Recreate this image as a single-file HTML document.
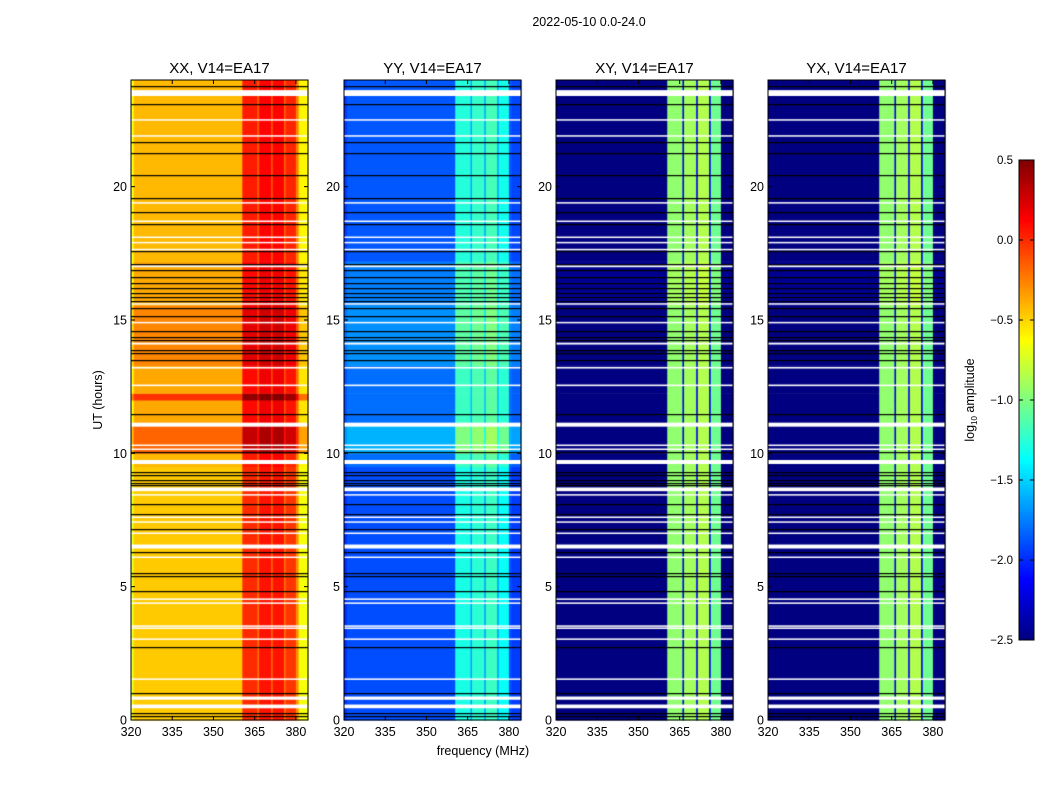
<!DOCTYPE html>
<html><head><meta charset="utf-8"><style>
body{margin:0;background:#fff;width:1050px;height:800px;overflow:hidden;font-family:"Liberation Sans",sans-serif;}
#root{position:relative;width:1050px;height:800px;}
canvas{position:absolute;}
svg{position:absolute;left:0;top:0;}
</style></head><body>
<div id="root">
<canvas id="cv" width="1050" height="800"></canvas>
<svg id="sv" width="1050" height="800"></svg>
</div>
<script>
const panelTitles = ["XX, V14=EA17","YY, V14=EA17","XY, V14=EA17","YX, V14=EA17"];
const panelLeft = [131,344,556,768];
const freqBreaks = [320,321,360.5,366,366.6,371,371.6,375.7,376.3,380,381,384.4];
const profXX = [-0.65,-0.42,0.05,-0.15,0.12,-0.1,0.12,-0.15,0.02,-0.25,-0.6];
const profYY = [-2.0,-1.9,-1.3,-1.65,-1.25,-1.65,-1.2,-1.65,-1.35,-1.9,-1.95];
const profXY = [-2.5,-2.5,-0.95,-2.2,-0.9,-2.2,-0.85,-2.2,-1.05,-2.5,-2.5];
const profYX = [-2.5,-2.5,-0.95,-2.2,-0.9,-2.2,-0.85,-2.2,-1.05,-2.5,-2.5];
const timeBreaks = [0,9.5,10.0,11.1,12.0,12.25,13.3,15.55,17.2,24];
const offXX = [-0.05,0,0.25,0.05,0.4,0.05,0.15,0.05,0];
const offYY = [0,0.1,0.3,0.1,0.1,0.1,0.2,0.15,0.03];
const offXY = [0,0,0,0,0,0,0,0.05,0];
const offYX = [0,0,0,0,0,0,0,0.05,0];
const whiteGaps = [[23.4,23.62],[22.48,22.53],[21.88,21.93],[19.37,19.42],[18.68,18.73],[18.08,18.13],[17.88,17.93],[17.62,17.67],[16.98,17.05],[15.58,15.63],[14.88,14.93],[14.08,14.15],[13.18,13.24],[12.52,12.58],[11.0,11.15],[10.28,10.33],[10.13,10.18],[9.6,9.75],[8.58,8.72],[8.42,8.47],[7.58,7.63],[7.4,7.45],[6.98,7.03],[6.43,6.58],[6.08,6.13],[4.51,4.56],[4.36,4.41],[3.5,3.55],[3.43,3.47],[3.01,3.06],[1.51,1.56],[0.76,0.88],[0.44,0.58]];
const blackLines = [23.77,23.1,21.67,21.26,20.44,19.57,19.05,18.6,17.6,17.1,16.87,16.6,16.4,16.2,16.0,15.85,15.7,15.45,15.15,14.6,14.37,14.25,13.87,13.76,13.5,11.47,10.05,9.3,9.2,9.0,8.9,8.8,8.1,7.72,7.16,6.3,5.5,5.4,4.84,2.74,1.0,0.25,0.15];
const xTicks = [320,335,350,365,380];
const yTicks = [0,5,10,15,20];
const cbTicks = [0.5,0.0,-0.5,-1.0,-1.5,-2.0,-2.5];
const profiles=[profXX,profYY,profXY,profYX], offsets=[offXX,offYY,offXY,offYX];
const PW=177, TOP=80, PH=640, F0=320, F1=384.4, VMIN=-2.5, VMAX=0.5;
const xs=(l,f)=>l+(f-F0)/(F1-F0)*PW;
const ys=h=>TOP+PH-(h/24)*PH;
function jet(v){let t=(v-VMIN)/(VMAX-VMIN);t=Math.max(0,Math.min(1,t));
 const c=x=>Math.round(255*Math.max(0,Math.min(1,1.5-Math.abs(x))));
 return `rgb(${c(4*t-3)},${c(4*t-2)},${c(4*t-1)})`;}
const ctx=document.getElementById('cv').getContext('2d');
const sv=document.getElementById('sv');const NS="http://www.w3.org/2000/svg";
function el(tag,attrs,text){const e=document.createElementNS(NS,tag);for(const k in attrs)e.setAttribute(k,attrs[k]);if(text!==undefined)e.textContent=text;sv.appendChild(e);return e;}
panelLeft.forEach((L,p)=>{
 for(let i=0;i<freqBreaks.length-1;i++){for(let j=0;j<timeBreaks.length-1;j++){
  ctx.fillStyle=jet(profiles[p][i]+offsets[p][j]);
  const x0=xs(L,freqBreaks[i]),x1=xs(L,freqBreaks[i+1]),y0=ys(timeBreaks[j+1]),y1=ys(timeBreaks[j]);
  ctx.fillRect(x0,y0,x1-x0+0.5,y1-y0+0.5);}}
 ctx.fillStyle="#fff";
 whiteGaps.forEach(g=>{const y0=ys(g[1]),y1=ys(g[0]);ctx.fillRect(L,y0,PW,Math.max(1.5,y1-y0));});
 ctx.fillStyle="#000";
 blackLines.forEach(h=>{ctx.fillRect(L,Math.round(ys(h)),PW,1.2);});
 const title=el('text',{x:L+PW/2,y:73,'text-anchor':'middle','font-size':15,fill:'#000'},panelTitles[p]);
 
 
 const fr=el('rect',{x:L,y:TOP,width:PW,height:PH,fill:'none',stroke:'#000','stroke-width':1});
 
 
 xTicks.forEach(f=>{const x=xs(L,f);
  el('line',{x1:x,x2:x,y1:TOP+PH,y2:TOP+PH-4,stroke:'#000'});el('line',{x1:x,x2:x,y1:TOP,y2:TOP+4,stroke:'#000'});
  const t=el('text',{x:x,y:TOP+PH+16,'text-anchor':'middle','font-size':12.5},String(f));
  
  });
 yTicks.forEach(h=>{const y=ys(h);
  el('line',{x1:L,x2:L+4,y1:y,y2:y,stroke:'#000'});el('line',{x1:L+PW,x2:L+PW-4,y1:y,y2:y,stroke:'#000'});
  const t=el('text',{x:L-4,y:y+4.5,'text-anchor':'end','font-size':12.5},String(h));
  
  });
});
const st=el('text',{x:589,y:26,'text-anchor':'middle','font-size':12.5},"2022-05-10 0.0-24.0");


const xl=el('text',{x:483,y:755,'text-anchor':'middle','font-size':12.5},"frequency (MHz)");


const yl=el('text',{x:0,y:0,'text-anchor':'middle','font-size':12.5,transform:'translate(102,400) rotate(-90)'},"UT (hours)");


const CBX=1019,CBW=15,CBT=160,CBH=480;
const cbs=v=>CBT+(VMAX-v)/(VMAX-VMIN)*CBH;
for(let i=0;i<CBH;i++){ctx.fillStyle=jet(VMAX-(i+0.5)/CBH*(VMAX-VMIN));ctx.fillRect(CBX,CBT+i,CBW,1);}
const cbf=el('rect',{x:CBX,y:CBT,width:CBW,height:CBH,fill:'none',stroke:'#000'});


cbTicks.forEach(v=>{const y=cbs(v);
 el('line',{x1:CBX,x2:CBX+4,y1:y,y2:y,stroke:'#000'});el('line',{x1:CBX+CBW,x2:CBX+CBW-4,y1:y,y2:y,stroke:'#000'});
 const t=el('text',{x:CBX-6,y:y+4,'text-anchor':'end','font-size':11.5},(v<0?'\u2212':'')+Math.abs(v).toFixed(1));
 
 });
const cl=el('text',{x:0,y:0,'text-anchor':'middle','font-size':12.5,transform:'translate(974,400) rotate(-90)'});


cl.innerHTML='log<tspan font-size="8" dy="3">10</tspan><tspan dy="-3"> amplitude</tspan>';
</script>
</body></html>
